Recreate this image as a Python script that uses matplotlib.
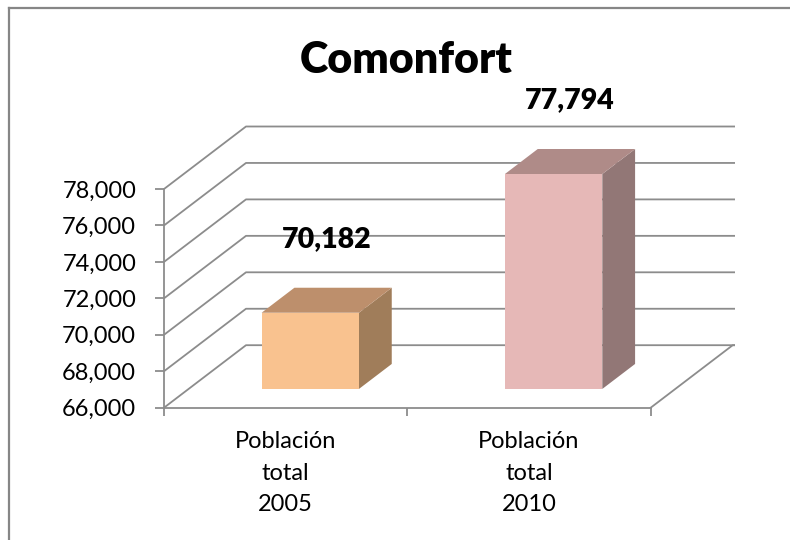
import matplotlib
matplotlib.use("Agg")
import matplotlib.pyplot as plt
from matplotlib.patches import Polygon
from matplotlib.lines import Line2D

plt.rcParams['font.family'] = ['Lato', 'DejaVu Sans']

# ---- data ----
title = "Comonfort"
categories = ["Población\ntotal\n2005", "Población\ntotal\n2010"]
values = [70182, 77794]
value_labels = ["70,182", "77,794"]
yticks = [66000, 68000, 70000, 72000, 74000, 76000, 78000]
ytick_labels = ["66,000", "68,000", "70,000", "72,000", "74,000", "76,000", "78,000"]

front_colors = ["#F9C28F", "#E6B8B7"]
top_colors = ["#BD8F6C", "#AF8B88"]
side_colors = ["#A07D5A", "#927776"]
grid_color = "#8C8C8C"

# ---- layout (pixels of a 790x540 canvas) ----
W, H = 790, 540
fig = plt.figure(figsize=(W / 100, H / 100), dpi=100)
fig.patch.set_facecolor("white")

# outer frame (right and bottom edges fall outside the picture)
fig.add_artist(Line2D([8.5 / W, 8.5 / W], [0, 1 - 7.5 / H], transform=fig.transFigure,
                      color="#868686", lw=1.6))
fig.add_artist(Line2D([8.5 / W, 1], [1 - 7.5 / H, 1 - 7.5 / H], transform=fig.transFigure,
                      color="#868686", lw=1.6))

left_px, right_px = 164, 735
bottom_px, top_px = 407.7, 125
ax = fig.add_axes([left_px / W, 1 - bottom_px / H, (right_px - left_px) / W,
                   (bottom_px - top_px) / H])
ax.set_facecolor("none")

px_per_cat = (650.7 - 164) / 2.0
px_per_val = 36.45 / 2000.0
xmin = -0.5
xmax = xmin + (right_px - left_px) / px_per_cat
ymin = yticks[0]
ymax = ymin + (bottom_px - top_px) / px_per_val
ax.set_xlim(xmin, xmax)
ax.set_ylim(ymin, ymax)

# floor depth in data units
DX = 82 / px_per_cat
DY = 62.5 / px_per_val


def P(x, v, d):
    return (x + d * DX, v + d * DY)


ncat = len(categories)
xfront_right = ncat - 0.5
lw = 1.3
# walls / gridlines
for v in yticks:
    pts = [P(xmin, v, 0), P(xmin, v, 1), (xmax, v + DY)]
    ax.plot([p[0] for p in pts], [p[1] for p in pts], color=grid_color, lw=lw, zorder=1,
            solid_capstyle="butt")
# floor right edge
pts = [P(xfront_right, ymin, 0), P(xfront_right, ymin, 1), (xmax, ymin + DY)]
ax.plot([p[0] for p in pts], [p[1] for p in pts], color=grid_color, lw=lw, zorder=1)

# bars
bw = 0.4
d0, d1 = 0.3, 0.7
for i, v in enumerate(values):
    xl, xr = i - bw / 2, i + bw / 2
    side = [P(xr, ymin, d0), P(xr, ymin, d1), P(xr, v, d1), P(xr, v, d0)]
    top = [P(xl, v, d0), P(xr, v, d0), P(xr, v, d1), P(xl, v, d1)]
    front = [P(xl, ymin, d0), P(xr, ymin, d0), P(xr, v, d0), P(xl, v, d0)]
    ax.add_patch(Polygon(side, closed=True, facecolor=side_colors[i], edgecolor="none", zorder=3))
    ax.add_patch(Polygon(top, closed=True, facecolor=top_colors[i], edgecolor="none", zorder=3))
    ax.add_patch(Polygon(front, closed=True, facecolor=front_colors[i], edgecolor="none", zorder=4))
    lx, ly = P(i, v, 0.5)
    ax.annotate(value_labels[i], (lx, ly), xytext=(0, 61), textcoords="offset pixels",
                ha="center", va="center", fontsize=20.5, fontweight="heavy", color="black",
                zorder=6, annotation_clip=False)

# axes: spines and ticks
for s in ["top", "right"]:
    ax.spines[s].set_visible(False)
ax.spines["left"].set_bounds(yticks[0], yticks[-1])
ax.spines["bottom"].set_bounds(xmin, xfront_right)
for s in ["left", "bottom"]:
    ax.spines[s].set_color(grid_color)
    ax.spines[s].set_linewidth(lw)

ax.set_yticks(yticks)
ax.set_yticklabels(ytick_labels)
ax.tick_params(axis="y", length=6.5, width=lw, color=grid_color, pad=13.5,
               labelsize=17, labelcolor="black")

ax.set_xticks([xmin + k for k in range(ncat + 1)])
ax.set_xticklabels([""] * (ncat + 1))
ax.tick_params(axis="x", which="major", length=5.5, width=lw, color=grid_color)
ax.set_xticks(list(range(ncat)), minor=True)
ax.set_xticklabels(categories, minor=True, fontsize=17, linespacing=1.62)
ax.tick_params(axis="x", which="minor", length=0, pad=17, labelcolor="black")

fig.text(406.5 / W, 1 - 60 / H, title, ha="center", va="center", fontsize=31,
         fontweight="heavy", color="black")

fig.savefig("out.png", dpi=100, facecolor="white")
